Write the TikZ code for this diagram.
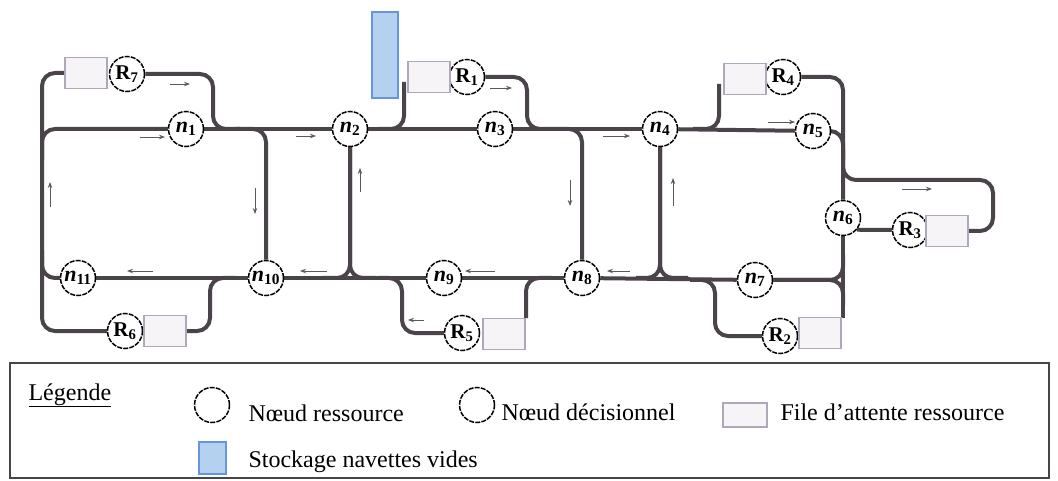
\documentclass[tikz,border=0pt]{standalone}
\usepackage{fontspec}
\setmainfont{Liberation Serif}
\usetikzlibrary{arrows.meta}
\definecolor{trackc}{RGB}{74,68,74}
\definecolor{qborder}{RGB}{176,168,186}
\definecolor{qfill}{RGB}{246,244,246}
\definecolor{stofill}{RGB}{182,208,240}
\definecolor{stoborder}{RGB}{100,150,222}
\definecolor{flowc}{RGB}{90,90,90}
\newcommand{\nlab}[1]{\textbf{\textit{n}\textsubscript{#1}}}
\newcommand{\rlab}[1]{\textbf{R\textsubscript{#1}}}
\pgfdeclarelayer{bg}
\pgfsetlayers{bg,main}
\tikzset{
  track/.style={draw=trackc, line width=4pt, rounded corners=13pt},
  dnode/.style={circle, draw=black, line width=1.5pt, dash pattern=on 5pt off 1.2pt,
    fill=white, minimum size=35pt, inner sep=0pt, font=\fontsize{22}{22}\selectfont},
  rnode/.style={dnode, font=\fontsize{21}{21}\selectfont},
  queue/.style={draw=qborder, line width=1.6pt, fill=qfill, minimum width=42pt,
    minimum height=31pt, inner sep=0pt},
  storage/.style={draw=stoborder, line width=2pt, fill=stofill, inner sep=0pt},
  flow/.style={draw=flowc, line width=0.9pt, -{Stealth[length=6pt,width=4.5pt]}},
  legtext/.style={anchor=base west, font=\fontsize{24}{24}\selectfont},
}
\begin{document}
\begin{tikzpicture}[x=1pt,y=-1pt]
\useasboundingbox (0,0) rectangle (1058,481);
% decision / resource nodes
\node[dnode] (n1) at (186,129) {\nlab{1}};
\node[dnode] (n2) at (350,129) {\nlab{2}};
\node[dnode] (n3) at (495,129) {\nlab{3}};
\node[dnode] (n4) at (660,129) {\nlab{4}};
\node[dnode] (n5) at (813,131) {\nlab{5}};
\node[dnode] (n6) at (843,218) {\nlab{6}};
\node[dnode] (n7) at (755,280) {\nlab{7}};
\node[dnode] (n8) at (582,278) {\nlab{8}};
\node[dnode] (n9) at (444,278) {\nlab{9}};
\node[dnode] (n10) at (266,278) {\nlab{10}};
\node[dnode] (n11) at (78,278) {\nlab{11}};
\node[rnode] (R7) at (127,74) {\rlab{7}};
\node[rnode] (R1) at (467,77) {\rlab{1}};
\node[rnode] (R4) at (783,77) {\rlab{4}};
\node[rnode] (R3) at (910,230) {\rlab{3}};
\node[rnode] (R2) at (780,336) {\rlab{2}};
\node[rnode] (R5) at (462,333) {\rlab{5}};
\node[rnode] (R6) at (125,331) {\rlab{6}};
\node[queue] (q7) at (86,73) {};
\node[queue] (q1) at (429,77) {};
\node[queue] (q4) at (745,79) {};
\node[queue] (q3) at (947,231) {};
\node[queue] (q2) at (820,333) {};
\node[queue] (q5) at (504,334) {};
\node[queue] (q6) at (165,331) {};
\node[storage, minimum width=26pt, minimum height=86pt] (sto) at (385,55) {};
% tracks
\begin{pgfonlayer}{bg}
\draw[track] (R6.west) -- (42,331) -- (42,73) -- (q7.west);
\draw[track] (42,250) |- (n11.west);
\draw[track] (42,160) |- (n1.west);
\draw[track] (n1) -- (n2);
\draw[track] (n2) -- (n3);
\draw[track] (n3) -- (n4);
\draw[track] (n4) -- (n5);
\draw[track] (R7.east) -- (213,74) -- (213,129) -- (240,129);
\draw[track] (236,129) -| (n10.north);
\draw[track] (n2.south) |- (322,278);
\draw[track] (n2.south) |- (376,278);
\draw[track] (378,129) -| (404,82);
\draw[track] (R1.east) -- (527,77) -- (527,129) -- (552,129);
\draw[track] (552,129) -| (n8.north);
\draw[track] (n4.south) |- (636,278);
\draw[track] (n4.south) |- (688,278);
\draw[track] (693,129) -| (719,84);
\draw[track] (R4.east) -- (843,77) -- (n6.north);
\draw[track] (n5.east) -| (843,160);
\draw[track] (843,150) |- (993,180) -- (993,231) -- (q3.east);
\draw[track] (n6.-40) -- (R3.west);
\draw[track] (n6.south) -- (843,318);
\draw[track] (n7.east) -| (843,255);
\draw[track] (n7.east) -| (843,305);
\draw[track] (R2.west) -- (715,336) -- (715,280) -- (690,280);
\draw[track] (n7) -- (n8);
\draw[track] (n8) -- (n9);
\draw[track] (n9) -- (n10);
\draw[track] (n10) -- (n11);
\draw[track] (552,278) -- (526,278) -- (526,318);
\draw[track] (R5.west) -- (402,333) -- (402,278) -- (378,278);
\draw[track] (q6.east) -- (210,331) -- (210,278) -- (236,278);
\end{pgfonlayer}
% flow arrows
\draw[flow] (140,137) -- (165,137);
\draw[flow] (170,84) -- (190,84);
\draw[flow] (296,136) -- (316,136);
\draw[flow] (490,88) -- (512,88);
\draw[flow] (603,136) -- (630,136);
\draw[flow] (768,122) -- (795,122);
\draw[flow] (902,189) -- (932,189);
\draw[flow] (153,271) -- (127,271);
\draw[flow] (327,271) -- (300,271);
\draw[flow] (495,271) -- (465,271);
\draw[flow] (630,271) -- (607,271);
\draw[flow] (424,320) -- (408,320);
\draw[flow] (50,207) -- (50,182);
\draw[flow] (255,188) -- (255,214);
\draw[flow] (360,192) -- (360,168);
\draw[flow] (570,180) -- (570,206);
\draw[flow] (673,206) -- (673,178);
% legend
\draw[draw=trackc, line width=2.5pt] (10,363) rectangle (1049,478);
\node[legtext] (lgt) at (25,400) {\underline{Légende}};
\node[dnode] (lr) at (212,405) {};
\node[legtext] (lrt) at (245,421) {Nœud ressource};
\node[dnode] (ld) at (477,405) {};
\node[legtext] (ldt) at (498,420) {Nœud décisionnel};
\node[queue, minimum width=44pt, minimum height=24pt] (lq) at (745,415) {};
\node[legtext] (lqt) at (777,420) {File d’attente ressource};
\node[storage, minimum width=27pt, minimum height=32pt] (ls) at (212,458) {};
\node[legtext] (lst) at (245,467) {Stockage navettes vides};
\end{tikzpicture}
\end{document}
